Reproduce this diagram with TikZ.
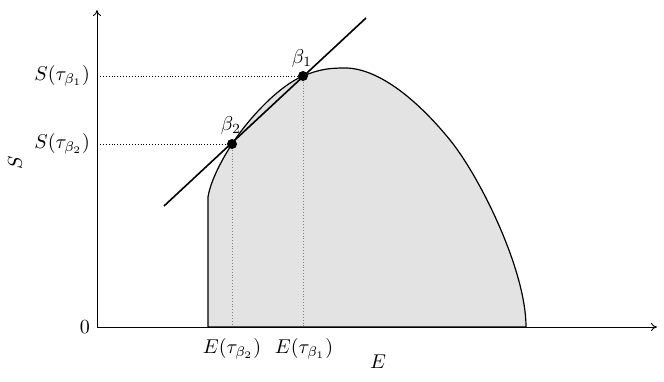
\documentclass[tikz,border=0pt]{standalone}
\usetikzlibrary{arrows.meta}
\begin{document}
\begin{tikzpicture}[x=0.5pt,y=-0.5pt,
  axis/.style={line width=0.45pt,-{To[length=3pt,width=4pt]}},
  curve/.style={line width=0.6pt,fill=black!11},
  tang/.style={line width=0.8pt},
  hguide/.style={densely dotted,line width=0.45pt},
  vguide/.style={densely dotted,line width=0.45pt,gray},
  dot/.style={circle,fill=black,inner sep=0pt,minimum size=5pt}]
\useasboundingbox (0,0) rectangle (664,381);
% coordinates
\coordinate (O) at (97,327);
\coordinate (Ytop) at (97,10);
\coordinate (Xend) at (657,327);
\coordinate (Y1) at (97,76);
\coordinate (Y2) at (97,144);
\coordinate (X1) at (303,327);
\coordinate (X2) at (232,327);
\coordinate (T1) at (164,206);
\coordinate (T2) at (366,18);
\coordinate (P1) at (303,76);
\coordinate (P2) at (232,144);
% filled region and curve
\draw[curve] (208,327) -- (208,197)
  .. controls (211,178) and (225.5,154) .. (P2)
  .. controls (245,124) and (275,88) .. (P1)
  .. controls (320,69) and (330,68) .. (345,68)
  .. controls (380,68) and (420,103) .. (450,140)
  .. controls (480,177) and (526,270) .. (526,327) -- cycle;
% guides
\draw[hguide] (Y1) -- (P1);
\draw[hguide] (Y2) -- (P2);
\draw[vguide] (P1) -- (X1);
\draw[vguide] (P2) -- (X2);
% axes
\draw[axis] (O) -- (Xend);
\draw[axis] (O) -- (Ytop);
% tangent line
\draw[tang] (T1) -- (T2);
\node[dot] (b1) at (P1) {};
\node[dot] (b2) at (P2) {};
% labels
\node[left] (l0) at (O) {$0$};
\node[left] (ls1) at (Y1) {$S(\tau_{\beta_1})$};
\node[left] (ls2) at (Y2) {$S(\tau_{\beta_2})$};
\node (le2) at (232,349) {$E(\tau_{\beta_2})$};
\node (le1) at (304,349) {$E(\tau_{\beta_1})$};
\node (lb1) at (302,58) {$\beta_1$};
\node (lb2) at (231,125) {$\beta_2$};
\node[rotate=90] (lS) at (15,163) {$S$};
\node (lE) at (378,362) {$E$};
\end{tikzpicture}
\end{document}
